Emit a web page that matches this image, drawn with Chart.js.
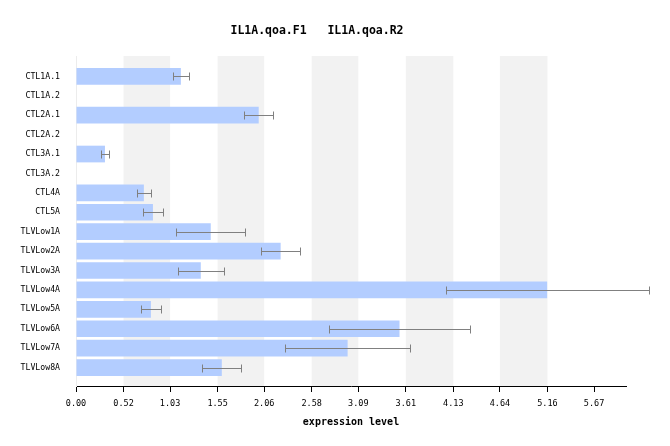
<!DOCTYPE html>
<html>
<head>
<meta charset="utf-8">
<script src="https://cdn.jsdelivr.net/npm/chart.js@4.4.0/dist/chart.umd.min.js"></script>
<style>
  body { margin: 0; background: #fff; }
  #wrap { width: 670px; height: 446px; }
</style>
</head>
<body>
<div id="wrap"><canvas id="canvas" width="670" height="446"></canvas></div>
<script>
const seriesNames = ['IL1A.qoa.F1', 'IL1A.qoa.R2'];
const categories = ['CTL1A.1', 'CTL1A.2', 'CTL2A.1', 'CTL2A.2', 'CTL3A.1', 'CTL3A.2', 'CTL4A', 'CTL5A',
  'TLVLow1A', 'TLVLow2A', 'TLVLow3A', 'TLVLow4A', 'TLVLow5A', 'TLVLow6A', 'TLVLow7A', 'TLVLow8A'];
const values = [1.148, null, 2.00, null, 0.317, null, 0.743, 0.842,
  1.475, 2.240, 1.366, 5.157, 0.820, 3.541, 2.973, 1.596];
const errors = [0.085, null, 0.158, null, 0.042, null, 0.073, 0.105,
  0.377, 0.213, 0.252, 1.110, 0.106, 0.773, 0.683, 0.213];
const xTickLabels = ['0.00', '0.52', '1.03', '1.55', '2.06', '2.58', '3.09', '3.61', '4.13', '4.64', '5.16', '5.67'];
const xMax = 6.02;

const canvas = document.getElementById('canvas');
const ctx = canvas.getContext('2d');

// grey bands between every other pair of ticks
const stripes = {
  id: 'stripes',
  beforeDatasetsDraw(chart) {
    const {ctx, chartArea, scales} = chart;
    ctx.save();
    ctx.fillStyle = '#f2f2f2';
    for (let i = 1; i + 1 < xTickLabels.length - 1; i += 2) {
      const a = scales.x.getPixelForValue(parseFloat(xTickLabels[i]));
      const b = scales.x.getPixelForValue(parseFloat(xTickLabels[i + 1]));
      ctx.fillRect(a, chartArea.top, b - a, chartArea.bottom - chartArea.top);
    }
    ctx.restore();
  }
};

const errorBars = {
  id: 'errorBars',
  afterDatasetsDraw(chart) {
    const {ctx, scales} = chart;
    const meta = chart.getDatasetMeta(0);
    ctx.save();
    ctx.strokeStyle = '#808080';
    ctx.lineWidth = 1;
    meta.data.forEach((bar, i) => {
      if (values[i] == null || errors[i] == null) return;
      const x1 = Math.round(scales.x.getPixelForValue(values[i] - errors[i])) + 0.5;
      const x2 = Math.round(scales.x.getPixelForValue(values[i] + errors[i])) + 0.5;
      const y = Math.round(bar.y) + 0.5;
      ctx.beginPath();
      ctx.moveTo(x1, y); ctx.lineTo(x2, y);
      ctx.moveTo(x1, y - 4); ctx.lineTo(x1, y + 4);
      ctx.moveTo(x2, y - 4); ctx.lineTo(x2, y + 4);
      ctx.stroke();
    });
    ctx.restore();
  }
};

const header = {
  id: 'header',
  afterDraw(chart) {
    const {ctx} = chart;
    ctx.save();
    ctx.fillStyle = '#000';
    ctx.font = 'bold 11.5px "DejaVu Sans Mono"';
    ctx.textAlign = 'center';
    ctx.textBaseline = 'middle';
    ctx.fillText(seriesNames.join('   '), 317, 31);
    ctx.restore();
  }
};

new Chart(ctx, {
  type: 'bar',
  data: {
    datasets: [{
      label: seriesNames[0],
      data: categories.map((c, i) => ({x: values[i], y: i})),
      backgroundColor: '#b3cdff',
      borderWidth: 0,
      barPercentage: 0.86,
      categoryPercentage: 1
    }]
  },
  options: {
    indexAxis: 'y',
    responsive: false,
    animation: false,
    devicePixelRatio: 1,
    layout: { padding: { top: 56, right: 44, bottom: 0, left: 0 } },
    plugins: { legend: { display: false }, tooltip: { enabled: false } },
    scales: {
      x: {
        type: 'linear',
        min: 0,
        max: xMax,
        afterFit(s) { s.height = 60; },
        afterBuildTicks(s) { s.ticks = xTickLabels.map(t => ({value: parseFloat(t)})); },
        ticks: {
          color: '#000',
          font: { family: 'DejaVu Sans Mono', size: 8.5 },
          padding: 7,
          maxRotation: 0,
          autoSkip: false,
          callback: (v, i) => xTickLabels[i]
        },
        grid: { drawOnChartArea: false, drawTicks: true, tickLength: 6, color: '#000', tickColor: '#000' },
        border: { display: true, color: '#000', width: 1 },
        title: {
          display: true,
          text: 'expression level',
          color: '#000',
          font: { family: 'DejaVu Sans Mono', size: 10, weight: 'bold' },
          padding: { top: 0, bottom: 18 }
        }
      },
      y: {
        type: 'linear',
        reverse: true,
        offset: false,
        min: -1.05,
        max: 15.95,
        afterFit(s) { s.width = 76; },
        afterBuildTicks(s) { s.ticks = categories.map((c, i) => ({value: i})); },
        ticks: {
          color: '#000',
          font: { family: 'DejaVu Sans Mono', size: 8.2 },
          padding: 8,
          autoSkip: false,
          callback: (v) => categories[v]
        },
        grid: { display: false, offset: false },
        border: { display: true, color: '#ececec', width: 1 }
      }
    }
  },
  plugins: [stripes, errorBars, header]
});
</script>
</body>
</html>
